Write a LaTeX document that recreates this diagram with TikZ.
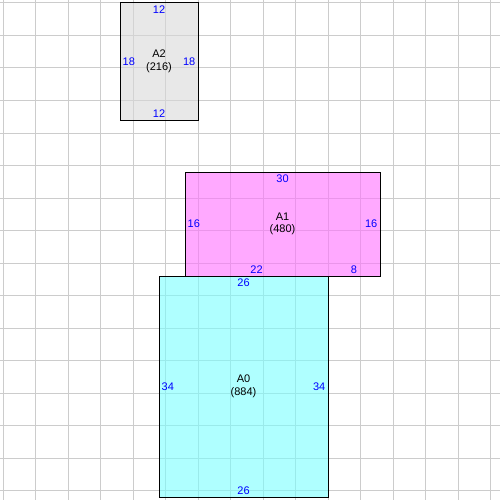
\documentclass[tikz,border=0pt]{standalone}
\usepackage{fontspec}
\setmainfont{Liberation Sans}
\definecolor{gridc}{RGB}{204,204,204}
\definecolor{fillAtwo}{RGB}{217,217,217}
\definecolor{fillAone}{RGB}{255,113,255}
\definecolor{fillAzero}{RGB}{122,255,255}
\definecolor{numc}{RGB}{0,0,255}
\tikzset{
  gridline/.style={draw=gridc, line width=1pt},
  sheet/.style={fill opacity=0.6},
  sheetborder/.style={draw=black, line width=1pt},
  num/.style={text=numc, inner sep=2.5pt, font=\fontsize{11}{12.5}\selectfont},
  title/.style={text=black, align=center, inner sep=0pt, font=\fontsize{11}{12.5}\selectfont}
}
\begin{document}
\begin{tikzpicture}[x=6.5pt,y=-6.5pt]
\useasboundingbox (-3pt,3pt) rectangle (497pt,-497pt);
\fill[white] (-3pt,3pt) rectangle (497pt,-497pt);
% grid
\foreach \i in {0,5,...,75} {
  \draw[gridline] (\i,-0.6) -- (\i,76.6);
  \draw[gridline] (-0.6,\i) -- (76.6,\i);
}
% A2
\coordinate (a2nw) at (18,0);
\coordinate (a2se) at (30,18);
\fill[fillAtwo, sheet] (a2nw) rectangle (a2se);
\draw[sheetborder] (a2nw) rectangle (a2se);
\node[num, anchor=north] (a2t) at (24,0) {12};
\node[num, anchor=south] (a2b) at (24,18) {12};
\node[num, anchor=west] (a2l) at (18,9) {18};
\node[num, anchor=east] (a2r) at (30,9) {18};
\node[title] (a2) at (24,9) {A2\\(216)};
% A1
\coordinate (a1nw) at (28,26);
\coordinate (a1se) at (58,42);
\fill[fillAone, sheet] (a1nw) rectangle (a1se);
% A0
\coordinate (a0nw) at (24,42);
\coordinate (a0se) at (50,76);
\fill[fillAzero, sheet] (a0nw) rectangle (a0se);
\draw[sheetborder] (a1nw) rectangle (a1se);
\draw[sheetborder] (a0nw) rectangle (a0se);
\node[num, anchor=north] (a1t) at (43,26) {30};
\node[num, anchor=west] (a1l) at (28,34) {16};
\node[num, anchor=east] (a1r) at (58,34) {16};
\node[num, anchor=south] (a1b) at (39,42) {22};
\node[num, anchor=south] (a1c) at (54,42) {8};
\node[title] (a1) at (43,34) {A1\\(480)};
\node[num, anchor=north] (a0t) at (37,42) {26};
\node[num, anchor=south] (a0b) at (37,76) {26};
\node[num, anchor=west] (a0l) at (24,59) {34};
\node[num, anchor=east] (a0r) at (50,59) {34};
\node[title] (a0) at (37,59) {A0\\(884)};
\end{tikzpicture}
\end{document}
